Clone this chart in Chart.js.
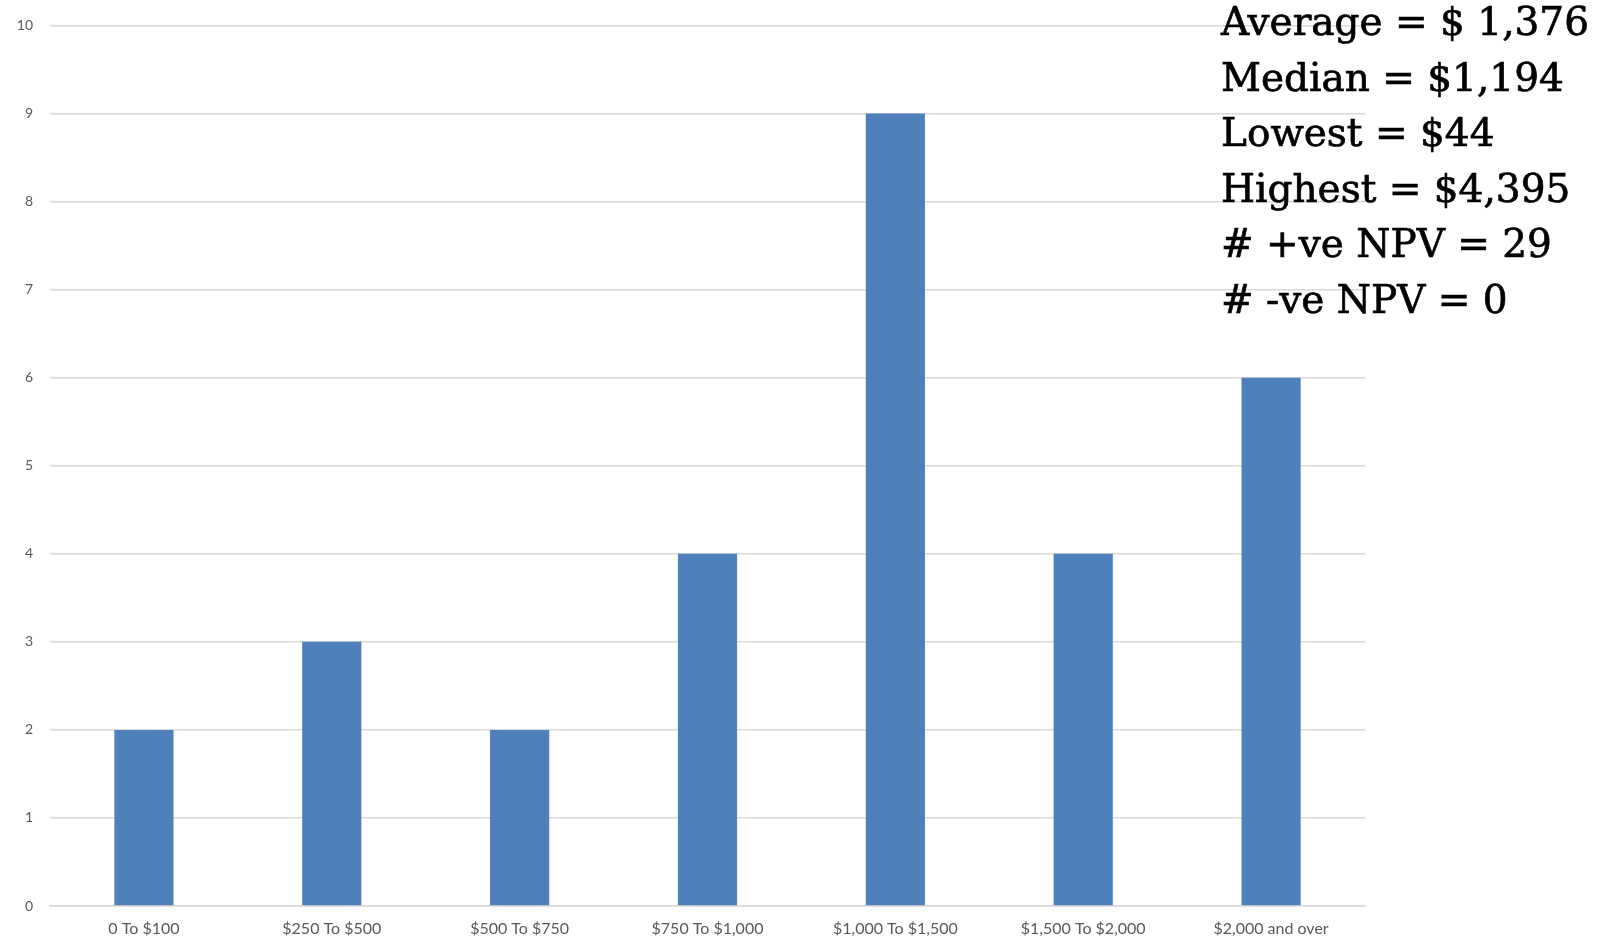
<!DOCTYPE html>
<html>
<head>
<meta charset="utf-8">
<script src="https://cdn.jsdelivr.net/npm/chart.js@4"></script>
<style>
    html, body { margin: 0; padding: 0; background: #fff; }
    #contenedor { position: relative; width: 1619px; height: 950px; }
    #resumen {
        position: absolute;
        left: 1221px;
        top: -6px;
        font-family: "DejaVu Serif", serif;
        font-size: 39px;
        line-height: 55.5px;
        color: #000;
        -webkit-text-stroke: 0.7px #000;
        white-space: nowrap;
    }
</style>
</head>
<body>
<div id="contenedor">
    <canvas id="npv-grafica" width="1619" height="950"></canvas>
    <div id="resumen"></div>
</div>
<script>
    const categorias = ['0 To $100', '$250 To $500', '$500 To $750', '$750 To $1,000', '$1,000 To $1,500', '$1,500 To $2,000', '$2,000 and over'];
    const frecuencias = [2, 3, 2, 4, 9, 4, 6];
    const resumen = ['Average = $ 1,376', 'Median = $1,194', 'Lowest = $44', 'Highest = $4,395', '# +ve NPV = 29', '# -ve NPV = 0'];

    (function() {
        // Texto con las estadisticas arriba a la derecha
        const caja = document.querySelector('#resumen');
        resumen.forEach(linea => {
            const div = document.createElement('div');
            div.textContent = linea;
            caja.appendChild(div);
        });

        const ctx = document.getElementById('npv-grafica');
        new Chart(ctx, {
            type: 'bar',
            data: {
                labels: categorias,
                datasets: [{
                    data: frecuencias,
                    backgroundColor: '#4f80bc',
                    barPercentage: 0.63,
                    categoryPercentage: 0.5
                }]
            },
            options: {
                responsive: false,
                animation: false,
                layout: {
                    padding: { top: 24, right: 254, left: 0, bottom: 0 }
                },
                scales: {
                    x: {
                        grid: { display: false, drawTicks: false },
                        border: { color: '#d9d9d9', width: 1.5 },
                        ticks: {
                            color: '#595959',
                            padding: 13,
                            maxRotation: 0,
                            font: { family: 'Lato', size: 16 }
                        },
                        afterFit: s => { s.height = 44; }
                    },
                    y: {
                        beginAtZero: true,
                        min: 0,
                        max: 10,
                        grid: { color: '#d9d9d9', lineWidth: 1.5, drawTicks: false },
                        border: { display: false },
                        ticks: {
                            stepSize: 1,
                            color: '#595959',
                            padding: 17,
                            font: { family: 'Lato', size: 14 }
                        },
                        afterFit: s => { s.width = 50; }
                    }
                },
                plugins: {
                    legend: { display: false },
                    tooltip: { enabled: false }
                }
            }
        });
    })();
</script>
</body>
</html>
